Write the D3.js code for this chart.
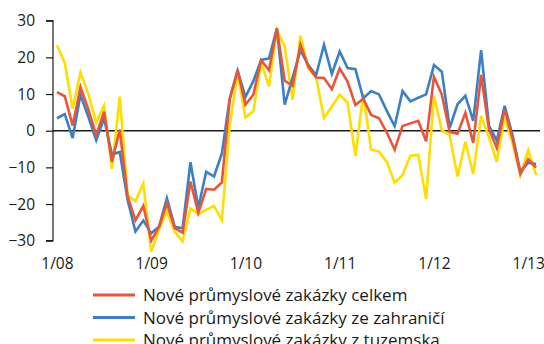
<!DOCTYPE html>
<html>
<head>
<meta charset="utf-8">
<script src="https://cdn.jsdelivr.net/npm/d3@7"></script>
<style>
  html, body { margin: 0; padding: 0; background: #fff; }
  svg { display: block; }
  text { font-family: "Open Sans", "Noto Sans", sans-serif; fill: #1a1a1a; }
</style>
</head>
<body>
<svg id="chart" width="544" height="344"></svg>
<script>
// Monthly series, 1/2008 – 2/2013 (year-on-year change, %)
const months = d3.range(62);

const celkem = [
  10.5, 9.4, 1.4, 11.9, 5.8, -1.2, 5.2, -8.5, 0.3, -18, -24.4, -20.5,
  -30, -26.2, -19.8, -26.6, -27.8, -13.9, -22.4, -15.9, -16.1, -14.1, 8.6, 16.4,
  7.1, 9.8, 19.2, 16.5, 27.9, 13.6, 12.2, 23.4, 17.5, 14.5, 14.4, 11.3,
  17, 13.4, 7, 8.7, 4.3, 3.4, -0.5, -5.2, 1.3, 2, 2.7, -2.9,
  14.7, 9.9, -0.3, -0.8, 4.9, -3.3, 15.2, 0.4, -4.7, 5.8, -2, -11.8,
  -7.8, -10.1
];

const zahranici = [
  3.4, 4.5, -2, 9.8, 3.8, -2.6, 3.4, -6.5, -5.8, -18.9, -27.5, -24.5,
  -28, -26.2, -18.4, -26.2, -26.6, -8.6, -21, -11.2, -12.5, -6.2, 8.8, 16.4,
  9.2, 13.5, 19.3, 19.7, 27.9, 7.1, 14.5, 21.9, 17.9, 15.2, 23.4, 15.5,
  21.6, 17.1, 16.8, 8.8, 10.8, 9.9, 5.4, 1.2, 10.8, 8, 9, 9.9,
  17.9, 16.1, 0.8, 7.2, 9.5, 2.7, 22, 1.4, -2.7, 6.8, -1.2, -11.2,
  -8.7, -9.1
];

const tuzemsko = [
  23.3, 18.5, 6, 15.9, 10, 2.2, 6.8, -10.4, 9.3, -17.6, -19.2, -14.4,
  -33, -27, -22, -27.6, -30.2, -21.2, -22.8, -21.6, -20.5, -24.4, 1.5, 15.8,
  3.6, 5.2, 18.6, 12.1, 27.5, 22.9, 8.4, 25.9, 17, 14.5, 3.4, 6.6,
  9.8, 7.7, -6.9, 10, -5.1, -5.7, -8.5, -14.2, -12.1, -6.8, -6.6, -18.6,
  9.4, 0.1, -1.2, -12.5, -3, -11.8, 4, -1.8, -8.5, 3.6, -3.4, -12.1,
  -5.3, -12.1
];

const yTicks = [-30, -20, -10, 0, 10, 20, 30];
const xTickIndex = [0, 12, 24, 36, 48, 60];
const xTickLabels = ["1/08", "1/09", "1/10", "1/11", "1/12", "1/13"];

const seriesNames = [
  "Nové průmyslové zakázky celkem",
  "Nové průmyslové zakázky ze zahraničí",
  "Nové průmyslové zakázky z tuzemska"
];
const seriesColors = ["#E8553A", "#3C80C3", "#FFDD00"];
const seriesData = [celkem, zahranici, tuzemsko];

const svg = d3.select("#chart");
const plot = { left: 53, right: 540, top: 20.7, bottom: 240.7 };
const fontFamily = "'Open Sans', 'Noto Sans', sans-serif";

const x = d3.scaleLinear()
  .domain([-0.5, months.length - 0.5])
  .range([plot.left, plot.right]);

const y = d3.scaleLinear()
  .domain([-30, 30])
  .range([plot.bottom, plot.top]);

// Y axis with outward ticks
const yAxis = svg.append("g")
  .attr("transform", `translate(${plot.left},0)`)
  .call(d3.axisLeft(y).tickValues(yTicks).tickSize(7).tickPadding(11).tickFormat(d3.format("d")));
yAxis.selectAll("path, line").attr("stroke", "#1a1a1a").attr("stroke-width", 1.2);
yAxis.selectAll("text").attr("font-size", 15.5).attr("fill", "#1a1a1a")
  .attr("font-family", fontFamily);
yAxis.select(".domain").attr("d", `M-7,${plot.top}H0V${plot.bottom}H-7`);

// Zero line
svg.append("line")
  .attr("x1", plot.left).attr("x2", plot.right)
  .attr("y1", y(0)).attr("y2", y(0))
  .attr("stroke", "#1a1a1a").attr("stroke-width", 1.5);

// X category labels
const xAxis = svg.append("g")
  .attr("transform", `translate(0,${plot.bottom + 9})`)
  .call(d3.axisBottom(x).tickValues(xTickIndex).tickSize(0).tickPadding(8)
    .tickFormat((d, i) => xTickLabels[i]));
xAxis.select(".domain").remove();
xAxis.selectAll("text").attr("font-size", 15.5).attr("fill", "#1a1a1a")
  .attr("font-family", fontFamily);

// Lines (yellow beneath, red on top)
const line = d3.line()
  .x((d, i) => x(i))
  .y(d => y(d));

[2, 1, 0].forEach(k => {
  svg.append("path")
    .datum(seriesData[k])
    .attr("fill", "none")
    .attr("stroke", seriesColors[k])
    .attr("stroke-width", 2.6)
    .attr("stroke-linejoin", "miter")
    .attr("d", line);
});

// Legend
const legend = svg.append("g").attr("transform", "translate(93,295)");
seriesNames.forEach((name, k) => {
  const g = legend.append("g").attr("transform", `translate(0,${k * 22.5})`);
  g.append("line")
    .attr("x1", 0).attr("x2", 42).attr("y1", 0).attr("y2", 0)
    .attr("stroke", seriesColors[k]).attr("stroke-width", 2.8);
  g.append("text")
    .attr("x", 50).attr("y", 0).attr("dy", "0.36em")
    .attr("font-size", 17)
    .text(name);
});
</script>
</body>
</html>
